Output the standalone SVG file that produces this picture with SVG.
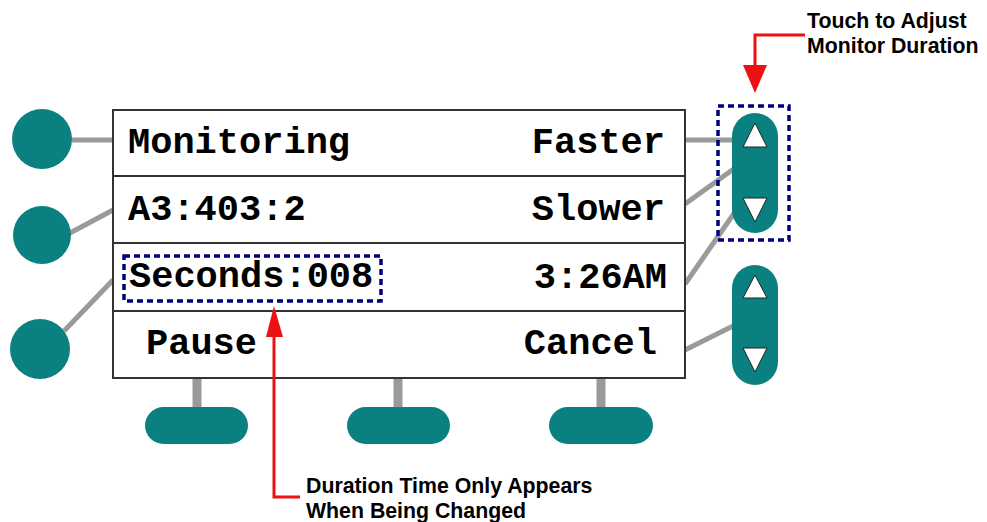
<svg xmlns="http://www.w3.org/2000/svg" width="987" height="522" viewBox="0 0 987 522">
<defs>
<style>
.btn{fill:#0b8080}
.conn{stroke:#9a9a9a;stroke-width:5;fill:none}
.stem{stroke:#9a9a9a;stroke-width:9;fill:none}
.frame{fill:#fff;stroke:#333;stroke-width:2}
.row{stroke:#333;stroke-width:2}
.lcd{font-family:"Liberation Mono","Courier New",monospace;font-weight:bold;font-size:37px;fill:#000}
.note{font-family:"Liberation Sans",Arial,sans-serif;font-weight:bold;font-size:21.3px;fill:#000}
.tri{fill:#fff;stroke:#222;stroke-width:1}
.sel{fill:none;stroke:#000080;stroke-width:3.5;stroke-dasharray:6 4}
.red{stroke:#ee1111;stroke-width:3;fill:none}
.redhead{fill:#ee1111}
</style>
</defs>
<g id="connectors">
<line class="conn" x1="72" y1="140" x2="113" y2="140"/>
<line class="conn" x1="70" y1="233" x2="113" y2="210"/>
<line class="conn" x1="64" y1="331" x2="113" y2="280"/>
<line class="conn" x1="685" y1="140" x2="735" y2="140"/>
<line class="conn" x1="685" y1="204" x2="735" y2="168"/>
<line class="conn" x1="685" y1="284" x2="735" y2="212"/>
<line class="conn" x1="685" y1="350" x2="735" y2="325"/>
<line class="stem" x1="197" y1="378" x2="197" y2="410"/>
<line class="stem" x1="398" y1="378" x2="398" y2="410"/>
<line class="stem" x1="601" y1="378" x2="601" y2="410"/>
</g>
<g id="screen">
<rect class="frame" x="113" y="110" width="572" height="268"/>
<line class="row" x1="113" y1="176" x2="685" y2="176"/>
<line class="row" x1="113" y1="243" x2="685" y2="243"/>
<line class="row" x1="113" y1="311" x2="685" y2="311"/>
<text class="lcd" x="128" y="153">Monitoring</text>
<text class="lcd" x="665" y="153" text-anchor="end">Faster</text>
<text class="lcd" x="128" y="220">A3:403:2</text>
<text class="lcd" x="665" y="220" text-anchor="end">Slower</text>
<text class="lcd" x="129" y="287">Seconds:008</text>
<text class="lcd" x="667" y="288" text-anchor="end">3:26AM</text>
<text class="lcd" x="146" y="354">Pause</text>
<text class="lcd" x="657" y="354" text-anchor="end">Cancel</text>
<rect id="seconds-highlight" class="sel" x="124" y="256" width="257" height="45"/>
</g>
<g id="left-btn-1"><circle class="btn" cx="42" cy="139" r="30"/></g>
<g id="left-btn-2"><circle class="btn" cx="42" cy="235" r="29"/></g>
<g id="left-btn-3"><circle class="btn" cx="40" cy="349" r="30"/></g>
<g id="bottom-btn-1"><rect class="btn" x="145" y="407" width="103" height="37" rx="18.5"/></g>
<g id="bottom-btn-2"><rect class="btn" x="347" y="407" width="103" height="37" rx="18.5"/></g>
<g id="bottom-btn-3"><rect class="btn" x="549" y="407" width="104" height="37" rx="18.5"/></g>
<g id="rocker-1">
<rect class="btn" x="732" y="113" width="46" height="120" rx="23"/>
<polygon class="tri" points="755,123 767,147 743,147"/>
<polygon class="tri" points="743,198 767,198 755,222"/>
<rect class="sel" x="718" y="106" width="71" height="134"/>
</g>
<g id="rocker-2">
<rect class="btn" x="732" y="265" width="46" height="120" rx="23"/>
<polygon class="tri" points="755,275 767,298 743,298"/>
<polygon class="tri" points="743,348 767,348 755,372"/>
</g>
<g id="note-top">
<polyline class="red" points="805,35 755,35 755,68"/>
<polygon class="redhead" points="743,65 767,65 755,93"/>
<text class="note" x="807" y="28">Touch to Adjust</text>
<text class="note" x="807" y="53">Monitor Duration</text>
</g>
<g id="note-bottom">
<polyline class="red" points="274,334 274,497 300,497"/>
<polygon class="redhead" points="274,306 283,337 266,337"/>
<text class="note" x="306" y="493">Duration Time Only Appears</text>
<text class="note" x="306" y="518">When Being Changed</text>
</g>
</svg>
